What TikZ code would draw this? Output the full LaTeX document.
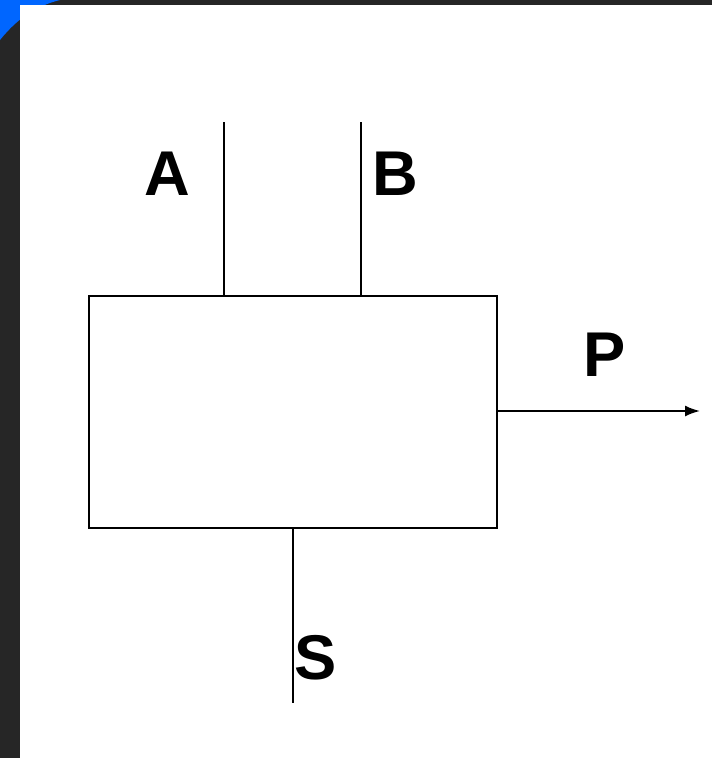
\documentclass[tikz,border=0pt]{standalone}
\usepackage{fontspec}
\setmainfont{Liberation Sans}
\usetikzlibrary{arrows.meta}
\begin{document}
\begin{tikzpicture}[x=0.02cm, y=-0.02cm, >={Latex[length=0.3cm,width=0.22cm]},
  line/.style={line width=1.1pt},
  lbl/.style={font=\fontsize{36}{40}\selectfont\bfseries, inner sep=0pt}]
  % slide background and white panel
  \fill[black!85] (0,0) rectangle (712,758);
  \fill[blue!60!cyan] (0,40) .. controls (20,15) and (40,5) .. (60,0) -- (0,0) -- cycle;
  \fill[white] (20,5) rectangle (712,758);
  \useasboundingbox (0,0) rectangle (712,758);

  % process block
  \node[draw, line, minimum width=8.16cm, minimum height=4.64cm, inner sep=0pt] (proc) at (293,412) {};

  \coordinate (inA) at (224,122);
  \coordinate (inB) at (361,122);
  \coordinate (outS) at (293,703);
  \coordinate (outP) at (700,411);

  \draw[line] (inA) -- (inA |- proc.north);
  \draw[line] (inB) -- (inB |- proc.north);
  \draw[line] (outS |- proc.south) -- (outS);
  \draw[line, ->] (proc.east |- outP) -- (outP);

  \node[lbl] (labA) at (167,174) {A};
  \node[lbl] (labB) at (395,174) {B};
  \node[lbl] (labP) at (605,355) {P};
  \node[lbl] (labS) at (316,658) {S};
\end{tikzpicture}
\end{document}
